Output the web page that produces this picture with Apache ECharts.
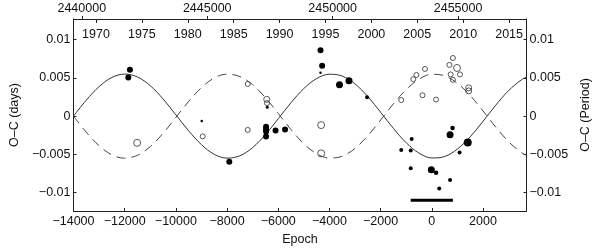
<!DOCTYPE html>
<html>
<head>
<meta charset="utf-8">
<script src="https://cdn.jsdelivr.net/npm/echarts@6/dist/echarts.min.js"></script>
<style>html,body{margin:0;padding:0;background:#fff}#c{width:600px;height:251px}</style>
</head>
<body>
<div id="c"></div>
<script>
// ---- data ----
const epochTicks = [-14000, -12000, -10000, -8000, -6000, -4000, -2000, 0, 2000];
const jdTicks = [2440000, 2445000, 2450000, 2455000];
const yearTicks = [1970, 1975, 1980, 1985, 1990, 1995, 2000, 2005, 2010, 2015];
const ocTicks = [-0.01, -0.005, 0, 0.005, 0.01];

// model curves (solid and dashed), read at epoch steps of 500
const curveEpoch = [-14000,-13500,-13000,-12500,-12000,-11500,-11000,-10500,-10000,-9500,-9000,-8500,-8000,-7500,-7000,-6500,-6000,-5500,-5000,-4500,-4000,-3500,-3000,-2500,-2000,-1500,-1000,-500,0,500,1000,1500,2000,2500,3000,3500,3700];
const solidOC = [0,0.00209,0.00386,0.00506,0.00550,0.00512,0.00398,0.00225,0.00017,-0.00192,-0.00373,-0.00499,-0.00549,-0.00518,-0.00411,-0.00241,-0.00034,0.00176,0.00361,0.00491,0.00548,0.00524,0.00421,0.00256,0.00051,-0.00161,-0.00348,-0.00483,-0.00547,-0.00528,-0.00430,-0.00270,-0.00068,0.00144,0.00334,0.00475,0.00512];
const dashedOC = [0,-0.00209,-0.00386,-0.00506,-0.00550,-0.00512,-0.00398,-0.00225,-0.00017,0.00192,0.00373,0.00499,0.00549,0.00518,0.00411,0.00241,0.00034,-0.00176,-0.00361,-0.00491,-0.00548,-0.00524,-0.00421,-0.00256,-0.00051,0.00161,0.00348,0.00483,0.00547,0.00528,0.00430,0.00270,0.00068,-0.00144,-0.00334,-0.00475,-0.00512];

// filled points
const filledEpoch = [-11795,-11858,-8989,-7912,-6430,-6476,-6476,-6476,-6476,-6104,-5733,-4349,-4286,-4349,-3607,-3236,-2530,810,713,-787,-1195,-824,1084,-824,-19,167,713,290,1403];
const filledOC = [0.00605,0.00504,-0.00063,-0.00596,0.00117,-0.0014,-0.0017,-0.002,-0.00265,-0.00189,-0.00176,0.0086,0.00659,0.00567,0.00412,0.00462,0.00248,-0.00155,-0.00243,-0.00299,-0.00441,-0.0045,-0.00475,-0.0068,-0.00702,-0.0074,-0.00835,-0.00945,-0.00344];
const filledWeight = [6,6,2.5,6,3,6,6,6,6,6,6,6,6,2.5,7,7,4,4.5,7,4,4,4,4,4,7,4.5,4,4,8];

// open points
const openEpoch = [-11513,-7192,-6450,-6440,-8952,-7192,-4323,-4323,824,687,984,735,1099,824,-267,-601,-724,-1195,-364,167,1440,1440];
const openOC = [-0.00349,0.0042,0.0022,0.0017,-0.00265,-0.0018,-0.00117,-0.00487,0.0076,0.0067,0.0063,0.00546,0.00546,0.00475,0.00617,0.00538,0.00483,0.0021,0.00273,0.00217,0.0037,0.0033];
const openWeight = [7,5,6,5,5,5,7,7,5,5,7,5,5,5,5,5,5,5,5,5,6,6];

// horizontal bar
const barEpoch = [-824, 824];
const barOC = [-0.011, -0.011];

// ---- chart ----
const FONT = 'Liberation Sans';
const FS = 12.5;
const TXT = '#111';
const minus = v => String(v).replace('-', '\u2212');
const lineCol = '#222';

const chart = echarts.init(document.getElementById('c'), null, {renderer: 'canvas'});
chart.setOption({
  animation: false,
  backgroundColor: '#fff',
  textStyle: {fontFamily: FONT},
  grid: {left: 63, right: 60, top: 19, bottom: 33, containLabel: false},
  xAxis: [
    {
      type: 'value', position: 'bottom', min: -14000, max: 3700, interval: 2000,
      name: 'Epoch', nameLocation: 'middle', nameGap: 22,
      nameTextStyle: {fontFamily: FONT, fontSize: FS, color: TXT},
      axisLine: {onZero: false, lineStyle: {color: lineCol, width: 1}},
      axisTick: {inside: true, length: 3, lineStyle: {color: lineCol}},
      axisLabel: {fontFamily: FONT, fontSize: FS, color: TXT, margin: 4, formatter: v => minus(v), showMaxLabel: false},
      splitLine: {show: false}
    },
    {
      type: 'value', position: 'top', min: 2439670, max: 2457727,
      axisLine: {onZero: false, lineStyle: {color: lineCol, width: 1}},
      axisTick: {inside: false, length: 3, customValues: jdTicks, lineStyle: {color: lineCol}},
      axisLabel: {fontFamily: FONT, fontSize: FS, color: TXT, margin: 4, customValues: jdTicks, formatter: v => String(v)},
      splitLine: {show: false}
    },
    {
      type: 'value', position: 'top', min: 1967.55, max: 2016.9,
      axisLine: {show: false, onZero: false},
      axisTick: {inside: true, length: 4, customValues: yearTicks, lineStyle: {color: lineCol}},
      axisLabel: {inside: true, fontFamily: FONT, fontSize: FS, color: TXT, margin: 9, customValues: yearTicks, formatter: v => String(v)},
      splitLine: {show: false}
    }
  ],
  yAxis: [
    {
      type: 'value', position: 'left', min: -0.0124, max: 0.0127,
      name: 'O\u2013C (days)', nameLocation: 'middle', nameRotate: 90, nameGap: 48,
      nameTextStyle: {fontFamily: FONT, fontSize: FS, color: TXT},
      axisLine: {show: true, onZero: false, lineStyle: {color: lineCol, width: 1}},
      axisTick: {show: true, inside: true, length: 3, customValues: ocTicks, lineStyle: {color: lineCol}},
      axisLabel: {fontFamily: FONT, fontSize: FS, color: TXT, margin: 3, customValues: ocTicks, formatter: v => minus(v)},
      splitLine: {show: false}
    },
    {
      type: 'value', position: 'right', min: -0.0124, max: 0.0127,
      name: 'O\u2013C (Period)', nameLocation: 'middle', nameRotate: 90, nameGap: 46,
      nameTextStyle: {fontFamily: FONT, fontSize: FS, color: TXT},
      axisLine: {show: true, onZero: false, lineStyle: {color: lineCol, width: 1}},
      axisTick: {show: true, inside: true, length: 3, customValues: ocTicks, lineStyle: {color: lineCol}},
      axisLabel: {fontFamily: FONT, fontSize: FS, color: TXT, margin: 3, customValues: ocTicks, formatter: v => minus(v)},
      splitLine: {show: false}
    }
  ],
  series: [
    {
      type: 'line', xAxisIndex: 0, yAxisIndex: 0, smooth: 0.35, symbol: 'none',
      lineStyle: {color: '#333', width: 1},
      data: curveEpoch.map((e, i) => [e, solidOC[i]]), z: 2
    },
    {
      type: 'line', xAxisIndex: 0, yAxisIndex: 0, smooth: 0.35, symbol: 'none',
      lineStyle: {color: '#444', width: 1, type: [9, 6]},
      data: curveEpoch.map((e, i) => [e, dashedOC[i]]), z: 2
    },
    {
      type: 'scatter', xAxisIndex: 0, yAxisIndex: 0, symbol: 'circle',
      itemStyle: {color: 'rgba(0,0,0,0)', borderColor: '#444', borderWidth: 0.9, opacity: 1},
      data: openEpoch.map((e, i) => ({value: [e, openOC[i]], symbolSize: openWeight[i]})), z: 3
    },
    {
      type: 'scatter', xAxisIndex: 0, yAxisIndex: 0, symbol: 'circle',
      itemStyle: {color: '#000', opacity: 1},
      data: filledEpoch.map((e, i) => ({value: [e, filledOC[i]], symbolSize: filledWeight[i]})), z: 4
    },
    {
      type: 'line', xAxisIndex: 0, yAxisIndex: 0, symbol: 'none',
      lineStyle: {color: '#000', width: 3},
      data: barEpoch.map((e, i) => [e, barOC[i]]), z: 4
    }
  ]
});
</script>
</body>
</html>
